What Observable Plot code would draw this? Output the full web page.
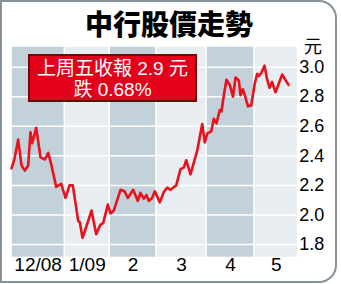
<!DOCTYPE html>
<html>
<head>
<meta charset="utf-8">
<script src="https://cdn.jsdelivr.net/npm/d3@7"></script>
<script src="https://cdn.jsdelivr.net/npm/@observablehq/plot@0.6"></script>
<style>
  html, body { margin: 0; padding: 0; background: #fff; }
  #wrap { position: relative; width: 341px; height: 284px; overflow: hidden; }
  #frame { position: absolute; left: 0; top: 0; width: 337px; height: 283px; box-sizing: border-box;
           border: 2.5px solid #86929c; border-radius: 0 18px 18px 0; pointer-events: none; }
  #title { position: absolute; left: 0; width: 338px; top: 6px; text-align: center;
           font-family: "Noto Sans CJK TC", sans-serif; font-weight: 900; font-size: 28px; line-height: 34px; color: #000; }
  #unit { position: absolute; left: 304px; top: 34px; font-family: "Noto Sans CJK TC", sans-serif; font-size: 18px; line-height: 22px; color: #000; }
  #note { position: absolute; left: 28px; top: 54px; width: 169px; height: 48px; box-sizing: border-box;
          background: #e3001b; border: 2.5px solid #6e0a0a; color: #fff; text-align: center;
          font-family: "Liberation Sans", "Noto Sans CJK TC", sans-serif; font-size: 19px; line-height: 21px; padding-top: 2px; }
  svg { display: block; }
</style>
</head>
<body>
<div id="wrap">
  <div id="chart"></div>
  <div id="frame"></div>
  <div id="title">中行股價走勢</div>
  <div id="unit">元</div>
  <div id="note">上周五收報 2.9 元<br>跌 0.68%</div>
</div>
<script>
// Month bands (x in trading-day units)
const monthLabels = ["12/08", "1/09", "2", "3", "4", "5"];
const monthStart = [0, 22.3, 41.1, 60.7, 81.6, 101.7];
const monthEnd = [22.3, 41.1, 60.7, 81.6, 101.7, 120];
const bandShade = ["dark", "light", "dark", "light", "dark", "light"];

// Y ticks
const yTicks = [1.8, 2.0, 2.2, 2.4, 2.6, 2.8, 3.0];
const yDomain = [1.714, 3.135];

// Share price series (day index, price in HK$)
const day = [0, 1.26, 2.8, 4.19, 5.57, 6.99, 7.95, 8.66, 10.34, 12.14, 13.94, 15.36, 16.74, 18.71, 20.8,
  22.6, 24.28, 25.66, 27.92, 28.59, 29.72, 31.69, 33.49, 35.45, 37.25, 38.38, 40.31,
  41.44, 42.82, 45.63, 47.3, 48.68, 50.94, 52.87, 54.0, 55.38, 56.51, 57.47, 58.9, 59.98,
  62.08, 63.75, 65.17, 66.55, 68.94, 70.74, 72.12, 73.13, 74.93, 77.73, 79.83, 80.91,
  81.92, 83.59, 84.68, 85.81, 87.19, 87.9, 88.86, 89.99, 91.37, 92.71, 93.76, 95.14, 95.86,
  96.82, 97.66, 98.99, 100.33, 101.84, 102.85, 103.52, 104.52, 105.9, 106.95, 108.0, 109.04,
  110.51, 111.89, 113.31, 114.4, 115.95];
const price = [2.315, 2.38, 2.51, 2.335, 2.30, 2.335, 2.56, 2.485, 2.59, 2.39, 2.375, 2.42, 2.335, 2.19, 2.21,
  2.115, 2.20, 2.20, 1.96, 1.95, 1.845, 1.94, 2.03, 1.87, 1.935, 1.945, 2.07,
  2.01, 2.03, 2.17, 2.16, 2.115, 2.17, 2.095, 2.15, 2.11, 2.135, 2.095, 2.115, 2.16,
  2.085, 2.155, 2.185, 2.17, 2.20, 2.31, 2.32, 2.37, 2.275, 2.435, 2.615, 2.49,
  2.55, 2.565, 2.65, 2.62, 2.71, 2.70, 2.81, 2.915, 2.88, 2.80, 2.93, 2.91, 2.81,
  2.85, 2.81, 2.735, 2.74, 2.89, 2.955, 2.94, 2.96, 3.01, 2.92, 2.86, 2.90,
  2.83, 2.89, 2.95, 2.92, 2.88];

const months = monthLabels.map((label, i) => ({label, start: monthStart[i], end: monthEnd[i], shade: bandShade[i]}));
const series = day.map((d, i) => ({day: d, price: price[i]}));

const chart = Plot.plot({
  width: 341,
  height: 284,
  marginLeft: 11,
  marginRight: 43.3,
  marginTop: 46.7,
  marginBottom: 27.3,
  style: {background: "transparent", fontFamily: "Liberation Sans, Arial, sans-serif", color: "#000"},
  x: {domain: [0, 120], axis: null},
  y: {domain: yDomain, axis: null},
  marks: [
    Plot.rect(months, {
      x1: "start", x2: "end", y1: () => yDomain[0], y2: () => yDomain[1],
      fill: d => d.shade === "dark" ? "#c3d1da" : "#e7edf1",
      insetLeft: 0.8, insetRight: 0.8
    }),
    Plot.ruleY(yTicks, {stroke: "#fff", strokeWidth: 1.5}),
    Plot.line(series, {x: "day", y: "price", stroke: "#e8121c", strokeWidth: 2.6, strokeLinejoin: "round", curve: "linear"}),
    Plot.axisY(yTicks, {anchor: "right", label: null, tickSize: 0, tickPadding: 1, tickFormat: d3.format(".1f"),
      fontSize: 18, fontFamily: "Liberation Sans, Arial, sans-serif", fill: "#000"}),
    Plot.text(months, {x: d => (d.start + d.end) / 2, text: "label", frameAnchor: "bottom", dy: 14,
      fontSize: 19, fontFamily: "Liberation Sans Narrow, Liberation Sans, sans-serif", fill: "#000"})
  ]
});
document.getElementById("chart").appendChild(chart);
</script>
</body>
</html>
